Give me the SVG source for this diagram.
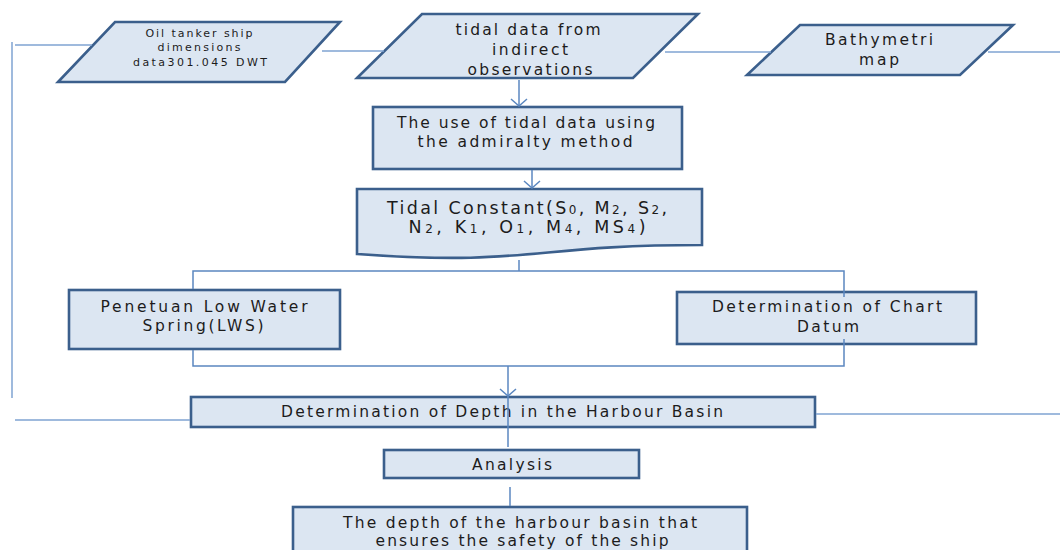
<svg xmlns="http://www.w3.org/2000/svg" width="1060" height="550" viewBox="0 0 1060 550">
<style>
.shape{fill:#dce6f2;stroke:#3b5f8c;stroke-width:2.6}
.conn{fill:none;stroke:#5b87c0;stroke-width:1.5}
.lt{fill:none;stroke:#7fa3d2;stroke-width:1.5}
text{font-family:"DejaVu Sans","Liberation Sans",Arial,sans-serif;fill:#1c1c1c;text-anchor:middle}
.s10{font-size:11px}
.s14{font-size:15.5px}
.s16{font-size:17.5px}
.sub{font-size:12px}
</style>
<defs>
<marker id="arr" viewBox="-1 -9 9 18" refX="7" refY="0" markerWidth="9" markerHeight="18" markerUnits="userSpaceOnUse" orient="auto">
<path d="M0,-8 L7,0 L0,8" fill="none" stroke="#5b87c0" stroke-width="1.5"/>
</marker>
</defs>
<rect width="1060" height="550" fill="#ffffff"/>
<g id="ship-data">
<polygon class="shape" points="115,22 340,22 285,82 58,82"/>
<text class="s10" x="199" y="37" textLength="107" lengthAdjust="spacing">Oil tanker ship</text>
<text class="s10" x="199" y="51" textLength="83" lengthAdjust="spacing">dimensions</text>
<text class="s10" x="200" y="66" textLength="134" lengthAdjust="spacing">data301.045 DWT</text>
</g>
<g id="tidal-data">
<polygon class="shape" points="422,14 698,14 633,78 357,78"/>
<text class="s14" x="528" y="35" textLength="145" lengthAdjust="spacing">tidal data from</text>
<text class="s14" x="530" y="55" textLength="76" lengthAdjust="spacing">indirect</text>
<text class="s14" x="530" y="75" textLength="125" lengthAdjust="spacing">observations</text>
</g>
<g id="bathymetri">
<polygon class="shape" points="800,25 1013,25 960,75 747,75"/>
<text class="s14" x="879" y="45" textLength="108" lengthAdjust="spacing">Bathymetri</text>
<text class="s14" x="879" y="65" textLength="40" lengthAdjust="spacing">map</text>
</g>
<g id="admiralty">
<rect class="shape" x="373" y="107" width="309" height="62"/>
<text class="s14" x="526" y="128" textLength="258" lengthAdjust="spacing">The use of tidal data using</text>
<text class="s14" x="525" y="147" textLength="215" lengthAdjust="spacing">the admiralty method</text>
</g>
<g id="tidal-constant">
<path class="shape" d="M357,189 H702 V245 C529.5,245 529.5,266.5 357,254 Z"/>
<text class="s16" x="527" y="214" textLength="280" lengthAdjust="spacing">Tidal Constant(S<tspan class="sub">0</tspan>, M<tspan class="sub">2</tspan>, S<tspan class="sub">2</tspan>,</text>
<text class="s16" x="527" y="233" textLength="237" lengthAdjust="spacing">N<tspan class="sub">2</tspan>, K<tspan class="sub">1</tspan>, O<tspan class="sub">1</tspan>, M<tspan class="sub">4</tspan>, MS<tspan class="sub">4</tspan>)</text>
</g>
<g id="lws">
<rect class="shape" x="69" y="290" width="271" height="59"/>
<text class="s14" x="204" y="312" textLength="207" lengthAdjust="spacing">Penetuan Low Water</text>
<text class="s14" x="203" y="331" textLength="121" lengthAdjust="spacing">Spring(LWS)</text>
</g>
<g id="chart-datum">
<rect class="shape" x="677" y="292" width="299" height="52"/>
<text class="s14" x="827" y="312" textLength="230" lengthAdjust="spacing">Determination of Chart</text>
<text class="s14" x="828" y="332" textLength="62" lengthAdjust="spacing">Datum</text>
</g>
<g id="depth">
<rect class="shape" x="191" y="397" width="624" height="30"/>
<text class="s14" x="502" y="417" textLength="442" lengthAdjust="spacing">Determination of Depth in the Harbour Basin</text>
</g>
<g id="analysis">
<rect class="shape" x="384" y="450" width="255" height="28"/>
<text class="s14" x="512" y="470" textLength="80" lengthAdjust="spacing">Analysis</text>
</g>
<g id="result">
<rect class="shape" x="293" y="507" width="454" height="60"/>
<text class="s14" x="520" y="528" textLength="354" lengthAdjust="spacing">The depth of the harbour basin that</text>
<text class="s14" x="522" y="546" textLength="293" lengthAdjust="spacing">ensures the safety of the ship</text>
</g>
<g id="connectors">
<line class="lt" x1="12" y1="42" x2="12" y2="398"/>
<line class="lt" x1="15" y1="45" x2="92" y2="45"/>
<line class="lt" x1="322" y1="51" x2="384" y2="51"/>
<line class="lt" x1="665" y1="52" x2="771" y2="52"/>
<line class="lt" x1="988" y1="52" x2="1060" y2="52"/>
<line class="conn" x1="519" y1="80" x2="519" y2="106" marker-end="url(#arr)"/>
<line class="conn" x1="532" y1="170" x2="532" y2="188" marker-end="url(#arr)"/>
<line class="conn" x1="519" y1="260" x2="519" y2="271"/>
<polyline class="conn" points="193,289 193,271 844,271 844,297"/>
<polyline class="conn" points="193,350 193,366 844,366 844,339"/>
<line class="conn" x1="508" y1="366" x2="508" y2="396" marker-end="url(#arr)"/>
<line class="conn" x1="508" y1="396" x2="508" y2="447"/>
<line class="lt" x1="15" y1="420" x2="190" y2="420"/>
<line class="lt" x1="816" y1="414" x2="1060" y2="414"/>
<line class="conn" x1="510" y1="487" x2="510" y2="506"/>
</g>
</svg>
